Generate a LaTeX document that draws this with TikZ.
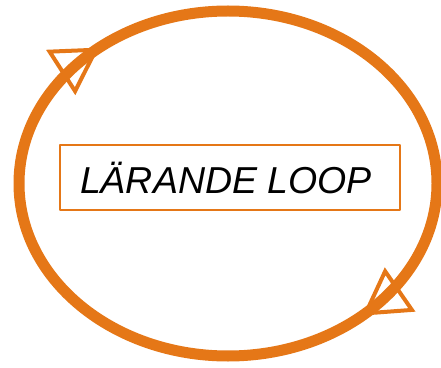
\documentclass[tikz,border=0pt]{standalone}
\usepackage{fontspec}
\setmainfont{Liberation Sans}
\usetikzlibrary{arrows.meta}
\definecolor{orng}{RGB}{229,119,23}
\begin{document}
\begin{tikzpicture}[x=1pt,y=1pt,line join=round,line cap=round,>={Triangle[open,length=46pt,width=53pt,line width=4pt]}]
	\tikzset{loopline/.style={draw=orng,line width=11pt},
	looptip/.style={draw=orng,line width=1pt,line cap=butt},
	lbox/.style={draw=orng,line width=1.5pt,minimum width=340pt,minimum height=65pt,inner sep=0pt,font=\itshape\fontsize{37.5}{40}\selectfont}}
	\def\rx{209}
	\def\ry{172.5}
	\useasboundingbox(0,0)rectangle(441,367);
	\coordinate(cc)at(228,183.5);
	\draw[loopline](cc)ellipse[x radius=\rx,y radius=\ry];
	\draw[looptip,->](cc)++(152:{\rx} and {\ry})arc[start angle=152,end angle=128,x radius=\rx,y radius=\ry];
	\draw[looptip,->](cc)++(-26:{\rx} and {\ry})arc[start angle=-26,end angle=-50,x radius=\rx,y radius=\ry];
	\node[lbox](lp)at(230,189.5){\hspace{-8pt}LÄRANDE LOOP};
\end{tikzpicture}
\end{document}
